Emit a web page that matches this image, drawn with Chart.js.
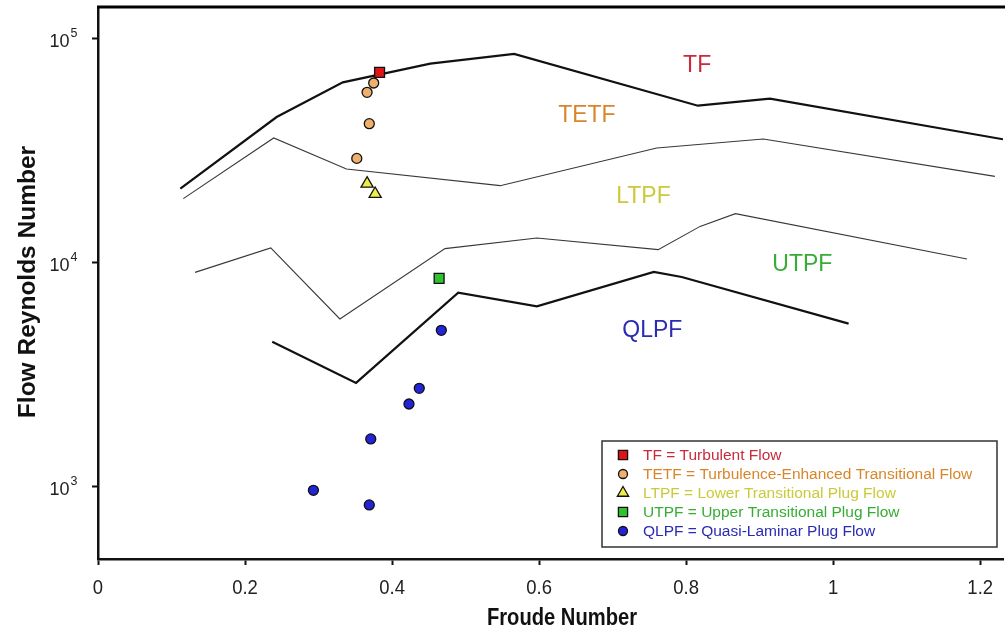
<!DOCTYPE html>
<html>
<head>
<meta charset="utf-8">
<script src="https://cdn.jsdelivr.net/npm/chart.js@4.4.1/dist/chart.umd.min.js"></script>
<style>
  html, body { margin: 0; padding: 0; background: #fff; }
  #wrap { width: 1005px; height: 635px; }
</style>
</head>
<body>
<div id="wrap"><canvas id="flowChart" width="1005" height="635"></canvas></div>
<script>
// regime boundaries (Froude number, flow Reynolds number)
const tfTetfX = [0.112, 0.243, 0.333, 0.452, 0.566, 0.816, 0.914, 1.231];
const tfTetfY = [21270, 44410, 63390, 76800, 84860, 49890, 53610, 35330];

const tetfLtpfX = [0.116, 0.239, 0.338, 0.547, 0.760, 0.905, 1.220];
const tetfLtpfY = [19200, 35810, 26040, 21940, 32320, 35440, 24140];

const ltpfUtpfX = [0.132, 0.235, 0.329, 0.472, 0.597, 0.762, 0.819, 0.867, 1.182];
const ltpfUtpfY = [9006, 11570, 5580, 11490, 12820, 11370, 14440, 16460, 10330];

const utpfQlpfX = [0.237, 0.351, 0.490, 0.597, 0.756, 0.794, 1.021];
const utpfQlpfY = [4420, 2892, 7311, 6353, 9044, 8590, 5318];

// measured points
const tfX = [0.383];
const tfY = [70250];
const tetfX = [0.375, 0.366, 0.369, 0.352];
const tetfY = [63000, 57210, 41480, 29040];
const ltpfX = [0.366, 0.377];
const ltpfY = [22390, 20150];
const utpfX = [0.464];
const utpfY = [8467];
const qlpfX = [0.467, 0.437, 0.423, 0.371, 0.293, 0.369];
const qlpfY = [4964, 2736, 2330, 1627, 960, 826];

const froudeTicks = [0, 0.2, 0.4, 0.6, 0.8, 1, 1.2];
const reynoldsTicks = [1000, 10000, 100000];

const regimeNames = ['TF', 'TETF', 'LTPF', 'UTPF', 'QLPF'];
const regimeX = [0.815, 0.665, 0.742, 0.958, 0.754];
const regimeY = [75250, 45010, 19600, 9745, 4949];
const regimeColors = ['#c92a3c', '#d8862a', '#caca3a', '#36ad36', '#2b2bb4'];

const pairs = (xs, ys) => xs.map((x, i) => ({ x: x, y: ys[i] }));

const markerSets = [
    { label: 'TF = Turbulent Flow', x: tfX, y: tfY, style: 'rect', r: 7, fill: '#dd1515' },
    { label: 'TETF = Turbulence-Enhanced Transitional Flow', x: tetfX, y: tetfY, style: 'circle', r: 5, fill: '#eeb06c' },
    { label: 'LTPF = Lower Transitional Plug Flow', x: ltpfX, y: ltpfY, style: 'triangle', r: 7, fill: '#eeee48' },
    { label: 'UTPF = Upper Transitional Plug Flow', x: utpfX, y: utpfY, style: 'rect', r: 7, fill: '#2ec22e' },
    { label: 'QLPF = Quasi-Laminar Plug Flow', x: qlpfX, y: qlpfY, style: 'circle', r: 5, fill: '#2323d8' }
];

function lineSet(xs, ys, width, color) {
    return {
        data: pairs(xs, ys),
        showLine: true,
        borderColor: color,
        borderWidth: width,
        pointRadius: 0,
        tension: 0
    };
}

let datasets = markerSets.map(m => ({
    label: m.label,
    data: pairs(m.x, m.y),
    pointStyle: m.style,
    pointRadius: m.r,
    backgroundColor: m.fill,
    borderColor: '#111',
    borderWidth: 1.3,
    showLine: false
}));
datasets.push(lineSet(tfTetfX, tfTetfY, 2.2, '#111'));
datasets.push(lineSet(tetfLtpfX, tetfLtpfY, 1.1, '#383838'));
datasets.push(lineSet(ltpfUtpfX, ltpfUtpfY, 1.1, '#383838'));
datasets.push(lineSet(utpfQlpfX, utpfQlpfY, 2.2, '#111'));

// narrow text: no condensed face installed, so squeeze the regular one
function narrowText(ctx, text, x, y, squeeze) {
    ctx.save();
    ctx.translate(x, y);
    ctx.scale(squeeze, 1);
    ctx.fillText(text, 0, 0);
    ctx.restore();
}

const decorations = {
    id: 'decorations',
    afterDraw(chart) {
        const ctx = chart.ctx;
        const area = chart.chartArea;
        const xs = chart.scales.x;
        const ys = chart.scales.y;
        ctx.save();

        // top frame line
        ctx.strokeStyle = '#000';
        ctx.lineWidth = 3;
        ctx.beginPath();
        ctx.moveTo(area.left - 1, area.top);
        ctx.lineTo(area.right + 2, area.top);
        ctx.stroke();

        // x tick labels
        ctx.fillStyle = '#222';
        ctx.font = '21px "Liberation Sans", Arial, sans-serif';
        ctx.textAlign = 'center';
        ctx.textBaseline = 'alphabetic';
        froudeTicks.forEach(v => {
            narrowText(ctx, String(v), xs.getPixelForValue(v), 594, 0.88);
        });

        // y tick labels as powers of ten
        reynoldsTicks.forEach(v => {
            const py = ys.getPixelForValue(v);
            ctx.font = '18px "Liberation Sans", Arial, sans-serif';
            ctx.textAlign = 'right';
            ctx.fillText('10', 69.5, py + 8.5);
            ctx.font = '12.5px "Liberation Sans", Arial, sans-serif';
            ctx.textAlign = 'left';
            ctx.fillText(String(Math.round(Math.log10(v))), 70.5, py - 1.5);
        });

        // axis titles
        ctx.fillStyle = '#111';
        ctx.textAlign = 'center';
        ctx.textBaseline = 'middle';
        ctx.font = 'bold 24px "Liberation Sans", Arial, sans-serif';
        narrowText(ctx, 'Froude Number', 562, 618, 0.84);
        ctx.save();
        ctx.translate(28, 282);
        ctx.rotate(-Math.PI / 2);
        ctx.font = 'bold 24.5px "Liberation Sans", Arial, sans-serif';
        ctx.fillText('Flow Reynolds Number', 0, 0);
        ctx.restore();

        // regime labels
        ctx.font = '23px "Liberation Sans", Arial, sans-serif';
        regimeNames.forEach((name, i) => {
            ctx.fillStyle = regimeColors[i];
            ctx.fillText(name, xs.getPixelForValue(regimeX[i]), ys.getPixelForValue(regimeY[i]));
        });

        // legend box
        ctx.fillStyle = '#fff';
        ctx.fillRect(602, 441, 395, 106);
        ctx.strokeStyle = '#333';
        ctx.lineWidth = 1.5;
        ctx.strokeRect(602, 441, 395, 106);
        ctx.font = '15.5px "Liberation Sans", Arial, sans-serif';
        ctx.textAlign = 'left';
        markerSets.forEach((m, i) => {
            const ly = 455 + i * 19;
            ctx.fillStyle = m.fill;
            ctx.strokeStyle = '#111';
            ctx.lineWidth = 1.3;
            Chart.helpers.drawPoint(ctx, {
                pointStyle: m.style,
                radius: m.style === 'circle' ? 4.5 : 6.5,
                rotation: 0,
                borderWidth: 1.3
            }, 623, ly);
            ctx.fillStyle = regimeColors[i];
            ctx.fillText(m.label, 643, ly + 1);
        });

        ctx.restore();
    }
};

let ctx = document.getElementById('flowChart').getContext('2d');
let flowChart = new Chart(ctx, {
    type: 'scatter',
    data: { datasets: datasets },
    options: {
        responsive: false,
        animation: false,
        devicePixelRatio: 1,
        layout: {
            autoPadding: false,
            padding: { left: 0, top: 7, right: 2, bottom: 0 }
        },
        plugins: {
            legend: { display: false },
            tooltip: { enabled: false }
        },
        scales: {
            x: {
                type: 'linear',
                min: 0,
                max: 1.231,
                afterBuildTicks: scale => {
                    scale.ticks = froudeTicks.map(v => ({ value: v }));
                },
                afterFit: scale => {
                    scale.height = 76;
                    scale.paddingLeft = 0;
                    scale.paddingRight = 0;
                },
                border: { display: true, color: '#111', width: 2.5 },
                grid: {
                    drawOnChartArea: false,
                    drawTicks: true,
                    tickLength: 6,
                    tickWidth: 2,
                    tickColor: '#111'
                },
                ticks: { display: false }
            },
            y: {
                type: 'logarithmic',
                min: 474,
                max: 137500,
                afterBuildTicks: scale => {
                    scale.ticks = reynoldsTicks.map(v => ({ value: v }));
                },
                afterFit: scale => {
                    scale.width = 98;
                    scale.paddingTop = 0;
                    scale.paddingBottom = 0;
                },
                border: { display: true, color: '#111', width: 2.5 },
                grid: {
                    drawOnChartArea: false,
                    drawTicks: true,
                    tickLength: 6,
                    tickWidth: 2,
                    tickColor: '#111'
                },
                ticks: { display: false }
            }
        }
    },
    plugins: [decorations]
});
</script>
</body>
</html>
